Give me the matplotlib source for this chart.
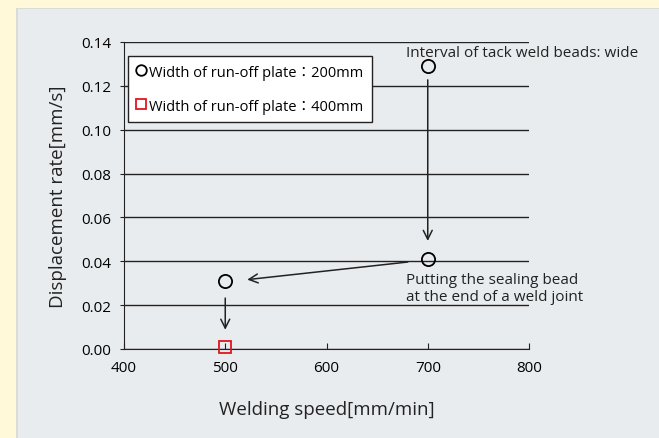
import matplotlib.pyplot as plt
from matplotlib.patches import Rectangle

plt.rcParams['font.family'] = ['Open Sans', 'Noto Sans CJK JP', 'DejaVu Sans']

# data
speed_200 = [700, 700, 500]
rate_200 = [0.129, 0.041, 0.031]
speed_400 = [500]
rate_400 = [0.001]
label_200 = 'Width of run-off plate：200mm'
label_400 = 'Width of run-off plate：400mm'
x_ticks = [400, 500, 600, 700, 800]
y_ticks = [0.00, 0.02, 0.04, 0.06, 0.08, 0.10, 0.12, 0.14]

fig = plt.figure(figsize=(6.59, 4.39), dpi=100)
fig.patch.set_facecolor('#fff8d9')
fig.patches.append(Rectangle((16 / 659, 0), 1, 1 - 9 / 439, transform=fig.transFigure,
                             facecolor='#dcdcd6', edgecolor='none', zorder=-2))
fig.patches.append(Rectangle((18 / 659, 0), 1, 1 - 10 / 439, transform=fig.transFigure,
                             facecolor='#e9ecef', edgecolor='none', zorder=-1))

ax = fig.add_axes([124 / 659, 1 - 350 / 439, 405 / 659, 307 / 439])
ax.set_facecolor('none')

ax.plot(speed_200, rate_200, 'o', ms=9.5, mfc='none', mec='black', mew=1.3,
        label=label_200, zorder=4, clip_on=False)
ax.plot(speed_400, rate_400, 's', ms=8.5, mfc='none', mec='#e0161e', mew=1.3,
        label=label_400, zorder=4, clip_on=False)

ax.set_xlim(400, 800)
ax.set_ylim(0, 0.14)
ax.set_xticks(x_ticks)
ax.set_yticks(y_ticks)
ax.set_yticklabels([f'{v:.2f}' for v in y_ticks])
ax.yaxis.grid(True, color='#222222', lw=1.0)
ax.set_axisbelow(True)
for s in ['top', 'right']:
    ax.spines[s].set_visible(False)
for s in ['left', 'bottom']:
    ax.spines[s].set_color('#222222')
ax.tick_params(axis='x', direction='in', length=4, labelsize=11, pad=8, color='#222222')
ax.tick_params(axis='y', direction='out', length=3, labelsize=11, pad=6, color='#222222')
ax.set_xlabel('Welding speed[mm/min]', fontsize=13.5, labelpad=18, color='#222222')
ax.set_ylabel('Displacement rate[mm/s]', fontsize=13.5, labelpad=10, color='#222222')

arrow = dict(arrowstyle='->', color='#222222', lw=1.1, mutation_scale=16)
ax.annotate('', xy=(700, 0.048), xytext=(700, 0.124), arrowprops=arrow)
ax.annotate('', xy=(519, 0.0315), xytext=(683, 0.0398), arrowprops=arrow)
ax.annotate('', xy=(500, 0.0075), xytext=(500, 0.0245), arrowprops=arrow)

ax.text(679, 0.1350, 'Interval of tack weld beads: wide', fontsize=11,
        va='center', ha='left', color='#222222')
ax.text(679, 0.0350, 'Putting the sealing bead\nat the end of a weld joint', fontsize=11,
        va='top', ha='left', color='#222222', linespacing=1.2)

leg = ax.legend(loc='upper left', bbox_to_anchor=(0.01, 0.955), fontsize=10.5,
                frameon=True, fancybox=False, edgecolor='#222222', framealpha=1,
                handlelength=0.6, handletextpad=0.25, borderpad=0.6,
                labelspacing=1.3, borderaxespad=0, markerscale=0.8)
leg.get_frame().set_linewidth(1.0)
leg.set_zorder(5)

fig.savefig('out.png', dpi=100)
